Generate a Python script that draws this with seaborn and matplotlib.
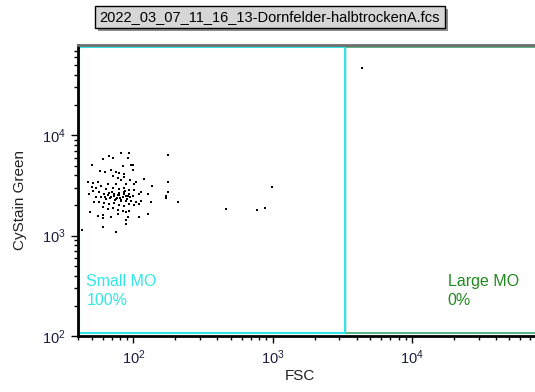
import matplotlib
matplotlib.use("Agg")
import matplotlib.pyplot as plt
import matplotlib.ticker as mticker
from matplotlib.patches import Rectangle
from matplotlib.transforms import IdentityTransform
import numpy as np
import pandas as pd
import seaborn as sns

# Events (FSC, CyStain Green)
fsc = [81.5, 92.5, 66.5, 71.0, 60.1, 91.0, 176.5, 50.5, 83.8, 96.2,
       100, 57.5, 62.9, 69.1, 75.0, 79.3, 98.9, 86.1, 71.0, 77.1,
       86.1, 120, 81.5, 94.6, 104.5, 46.9, 50.9, 55.4, 65.3, 75.0,
       88.6, 101.7, 136, 176.5, 50.5, 54.0, 58.5, 63.6, 71.0, 79.3,
       86.1, 93.6, 101.7, 113.6, 126.8, 50.9, 56.9, 61.8, 67.2, 73.0,
       79.3, 86.1, 91.0, 98.9, 110.5, 176.5, 170, 170, 48.2, 54.0,
       58.5, 63.6, 69.1, 75.0, 81.5, 88.6, 96.2, 104.5, 113.6, 134,
       208, 52.4, 56.9, 61.8, 67.2, 73.0, 79.3, 86.1, 93.6, 101.7,
       110.5, 60.1, 65.3, 71.0, 77.1, 83.8, 88.6, 93.6, 48.8, 55.4,
       60.1, 69.1, 77.1, 91.0, 110.5, 126.8, 60.1, 88.6, 88.6, 60.1,
       75.0, 42.8, 995, 459, 771, 876, 4345,
       88, 84, 80, 77, 72, 68, 90, 85, 95, 79, 74, 66, 82, 70, 93, 63, 87, 76]
cystain = [6655, 6655, 6166, 5980, 5800, 5980, 6310, 5050, 4900, 5050,
           5050, 4400, 4266, 4540, 4300, 4200, 4467, 4140, 3890, 3775,
           3830, 3690, 3550, 3550, 3415, 3415, 3340, 3415, 3285, 3285,
           3285, 3285, 3140, 3415, 3045, 3000, 3090, 2930, 3000, 2930,
           3000, 2865, 2820, 2715, 2610, 2775, 2715, 2610, 2650, 2610,
           2570, 2715, 2510, 2510, 2610, 2715, 2510, 2380, 2610, 2455,
           2417, 2327, 2417, 2327, 2274, 2240, 2240, 2155, 2205, 2155,
           2155, 2155, 2155, 2105, 2073, 2105, 2042, 1995, 2073, 2042,
           2073, 1920, 1847, 1890, 1805, 1778, 1710, 1750, 1710, 1585,
           1622, 1549, 1647, 1549, 1549, 1647, 1502, 1434, 1308, 1212,
           1096, 1148, 3045, 1847, 1805, 1890, 46450,
           2500, 2450, 2380, 2550, 2480, 2350, 2300, 2620, 2420, 2650,
           2250, 2520, 2200, 2700, 2580, 2450, 2780, 2400]

# Gates
gate_names = ["Small MO", "Large MO"]
gate_pct = ["100%", "0%"]
gate_split = 3300
title = "2022_03_07_11_16_13-Dornfelder-halbtrockenA.fcs"

df = pd.DataFrame({"FSC": fsc, "CyStain Green": cystain})

sns.set_style("white")
plt.rcParams["font.family"] = ["Liberation Sans", "DejaVu Sans"]
plt.rcParams["mathtext.default"] = "regular"

fig = plt.figure(figsize=(5.35, 3.92), dpi=100)
W, H = 535, 392
x0, y0, x1, y1 = 78, 45, 545, 336
ax = fig.add_axes([x0 / W, 1 - y1 / H, (x1 - x0) / W, (y1 - y0) / H])

xmin, xmax = 40, 9e4
ymin, ymax = 100, 10 ** 4.9

sns.scatterplot(data=df, x="FSC", y="CyStain Green", ax=ax, color="black",
                marker="s", s=4, linewidth=0, legend=False, zorder=3)

ax.set_xscale("log")
ax.set_yscale("log")
ax.set_xlim(xmin, xmax)
ax.set_ylim(ymin, ymax)

# Gate rectangles
cyan = "#33e6e6"
green = "#3aa86e"
gx0, gy0, gy1 = 41, 107, 10 ** 4.88
ax.plot([gate_split, xmax * 2], [gy0, gy0], color=green, lw=1.2, zorder=1)
ax.plot([gate_split, xmax * 2], [gy1, gy1], color=green, lw=1.2, zorder=1)
ax.plot([gate_split * 1.006, gate_split * 1.006], [gy0, gy1], color=green,
        lw=1.0, zorder=1)
ax.plot([gx0, gate_split, gate_split, gx0, gx0], [gy0, gy0, gy1, gy1, gy0],
        color=cyan, lw=1.5, zorder=2)

ax.text(46, 347, gate_names[0], color="#33e6e6", fontsize=11.5, va="center")
ax.text(46, 224, gate_pct[0], color="#33e6e6", fontsize=11.5, va="center")
ax.text(18000, 347, gate_names[1], color="#1f8a1f", fontsize=11.5, va="center")
ax.text(18000, 224, gate_pct[1], color="#1f8a1f", fontsize=11.5, va="center")

# Axes styling
for side in ["left", "bottom"]:
    ax.spines[side].set_color("black")
    ax.spines[side].set_linewidth(2)
ax.spines["top"].set_color("#6e6e6e")
ax.spines["top"].set_linewidth(2)
ax.spines["right"].set_visible(False)

ax.xaxis.set_major_locator(mticker.LogLocator(base=10))
ax.yaxis.set_major_locator(mticker.LogLocator(base=10))
ax.xaxis.set_minor_locator(mticker.LogLocator(base=10, subs=np.arange(2, 10)))
ax.yaxis.set_minor_locator(mticker.LogLocator(base=10, subs=np.arange(2, 10)))
ax.xaxis.set_minor_formatter(mticker.NullFormatter())
ax.yaxis.set_minor_formatter(mticker.NullFormatter())
ax.tick_params(which="major", direction="out", length=5, width=1,
               color="black", labelsize=10.5, labelcolor="#1c1c3c",
               bottom=True, left=True, pad=4)
ax.tick_params(which="minor", direction="out", length=3, width=1,
               color="black", bottom=True, left=True)

ax.set_xlabel("FSC", fontsize=11, color="#222222")
ax.set_ylabel("CyStain Green", fontsize=11, color="#222222")
ax.xaxis.set_label_coords((300 - x0) / (x1 - x0), -0.115)
ax.yaxis.set_label_coords((27 - x0) / (x1 - x0), (y1 - 200) / (y1 - y0))

# Title box with a drop shadow
t = fig.text(270 / W, 1 - 17 / H, title, ha="center", va="center",
             fontsize=10.5, color="black", zorder=5,
             bbox=dict(boxstyle="square,pad=0.3", facecolor="#d6d6d6",
                       edgecolor="black", linewidth=1))
fig.canvas.draw()
bb = t.get_bbox_patch().get_window_extent()
shadow = Rectangle((bb.x0 + 3, bb.y0 - 3), bb.width, bb.height,
                   transform=IdentityTransform(), facecolor="#8c8c8c",
                   edgecolor="none", zorder=4)
fig.add_artist(shadow)

fig.savefig("out.png", dpi=100)
